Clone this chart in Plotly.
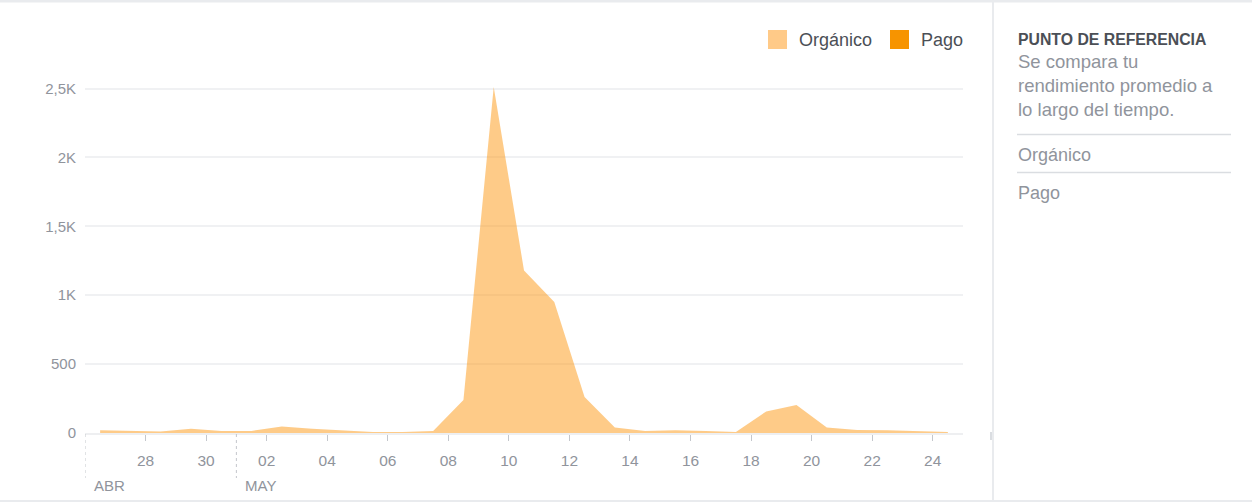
import plotly.graph_objects as go

# ---- data ----
dates = ["2018-04-26 12:00", "2018-04-27 12:00", "2018-04-28 12:00", "2018-04-29 12:00",
         "2018-04-30 12:00", "2018-05-01 12:00", "2018-05-02 12:00", "2018-05-03 12:00",
         "2018-05-04 12:00", "2018-05-05 12:00", "2018-05-06 12:00", "2018-05-07 12:00",
         "2018-05-08 12:00", "2018-05-09 12:00", "2018-05-10 12:00", "2018-05-11 12:00",
         "2018-05-12 12:00", "2018-05-13 12:00", "2018-05-14 12:00", "2018-05-15 12:00",
         "2018-05-16 12:00", "2018-05-17 12:00", "2018-05-18 12:00", "2018-05-19 12:00",
         "2018-05-20 12:00", "2018-05-21 12:00", "2018-05-22 12:00", "2018-05-23 12:00",
         "2018-05-24 12:00"]
organico = [20, 15, 10, 30, 15, 15, 48, 30, 20, 8, 8, 15, 240, 2510, 1180, 950,
            262, 40, 15, 20, 15, 8, 156, 203, 40, 22, 20, 12, 8]
pago = [0] * len(dates)

x_tick_vals = ["2018-04-28", "2018-04-30", "2018-05-02", "2018-05-04", "2018-05-06",
               "2018-05-08", "2018-05-10", "2018-05-12", "2018-05-14", "2018-05-16",
               "2018-05-18", "2018-05-20", "2018-05-22", "2018-05-24"]
x_tick_text = ["28", "30", "02", "04", "06", "08", "10", "12", "14", "16", "18", "20", "22", "24"]
y_tick_vals = [0, 500, 1000, 1500, 2000, 2500]
y_tick_text = ["0", "500", "1K", "1,5K", "2K", "2,5K"]
months = ["ABR", "MAY"]
month_starts = ["2018-04-26", "2018-05-01"]
legend_names = ["Orgánico", "Pago"]
legend_colors = ["#FFCA88", "#F79400"]
panel_title = "PUNTO DE REFERENCIA"
panel_lines = ["Se compara tu", "rendimiento promedio a", "lo largo del tiempo."]
panel_items = ["Orgánico", "Pago"]

# ---- layout geometry (pixels) ----
W, H = 1252, 502
L, R = 85, 963
T, B = 86, 433
PW, PH = R - L, B - T


def px(xp):
    return (xp - L) / PW


def py(yp):
    return (B - yp) / PH


FONT = "Liberation Sans, Arial, Helvetica, sans-serif"
GRAY = "#90949C"

fig = go.Figure()
fig.add_trace(go.Scatter(x=dates, y=pago, name="Pago", stackgroup="one",
                         line=dict(width=0, color="#F79400"),
                         fillcolor="rgba(247,148,0,0.9)", showlegend=False, hoverinfo="skip"))
fig.add_trace(go.Scatter(x=dates, y=organico, name="Orgánico", stackgroup="one",
                         line=dict(width=0, color="#FFCA88"),
                         fillcolor="rgba(253,152,18,0.5)", showlegend=False))

shapes = []
annotations = []

# month separators + labels
for m, d in zip(months, month_starts):
    shapes.append(dict(type="line", xref="x", yref="paper", x0=d, x1=d,
                       y0=py(434), y1=py(478),
                       line=dict(color="#C4C7CC", width=1, dash="3px,3px")))
    annotations.append(dict(text=m, xref="x", yref="paper", x=d, y=py(485),
                            xanchor="left", yanchor="middle", xshift=7, showarrow=False,
                            font=dict(family=FONT, size=15, color=GRAY)))

# small end marker near panel
shapes.append(dict(type="rect", xref="paper", yref="paper", x0=px(990), x1=px(992),
                   y0=py(432), y1=py(440), line=dict(width=0), fillcolor="#DADDE1"))

# card borders and panel separator
shapes.append(dict(type="line", xref="paper", yref="paper", x0=px(0), x1=px(W),
                   y0=py(1), y1=py(1), line=dict(color="#E9EBEE", width=3)))
shapes.append(dict(type="line", xref="paper", yref="paper", x0=px(0), x1=px(W),
                   y0=py(501), y1=py(501), line=dict(color="#E9EBEE", width=2)))
shapes.append(dict(type="line", xref="paper", yref="paper", x0=px(993), x1=px(993),
                   y0=py(0), y1=py(502), line=dict(color="#E9EBEE", width=2)))

# manual legend
leg_x = [768, 890]
text_x = [797, 919]
for name, col, sx, tx in zip(legend_names, legend_colors, leg_x, text_x):
    shapes.append(dict(type="rect", xref="paper", yref="paper", x0=px(sx), x1=px(sx + 19),
                       y0=py(49), y1=py(30), line=dict(width=0), fillcolor=col))
    annotations.append(dict(text=name, xref="paper", yref="paper", x=px(tx), y=py(40),
                            xanchor="left", yanchor="middle", showarrow=False,
                            font=dict(family=FONT, size=18, color="#4B4F56")))

# right panel
annotations.append(dict(text="<b>" + panel_title + "</b>", xref="paper", yref="paper",
                        x=px(1016), y=py(39), xanchor="left", yanchor="middle", showarrow=False,
                        font=dict(family=FONT, size=15.8, color="#4B4F56")))
for i, line in enumerate(panel_lines):
    annotations.append(dict(text=line, xref="paper", yref="paper",
                            x=px(1016), y=py(62 + 23.5 * i), xanchor="left", yanchor="middle",
                            showarrow=False, font=dict(family=FONT, size=18.5, color=GRAY)))
for yl in [134.5, 172.5]:
    shapes.append(dict(type="line", xref="paper", yref="paper", x0=px(1017), x1=px(1231),
                       y0=py(yl), y1=py(yl), line=dict(color="#DADDE1", width=1.5)))
for i, item in enumerate(panel_items):
    annotations.append(dict(text=item, xref="paper", yref="paper",
                            x=px(1016), y=py(155 + 37.5 * i), xanchor="left", yanchor="middle",
                            showarrow=False, font=dict(family=FONT, size=18, color=GRAY)))

ymax = (B - T) / ((B - 88.5) / 2500)

fig.update_layout(
    width=W, height=H,
    margin=dict(l=L, r=W - R, t=T, b=H - B, pad=0),
    paper_bgcolor="white", plot_bgcolor="white",
    showlegend=False,
    shapes=shapes, annotations=annotations,
    font=dict(family=FONT),
    xaxis=dict(type="date", range=["2018-04-26", "2018-05-25"],
               tickvals=x_tick_vals, ticktext=x_tick_text,
               ticks="outside", ticklen=6, tickcolor="#C4C7CC", tickwidth=1,
               ticklabelstandoff=6,
               showgrid=False, zeroline=False, showline=True, linecolor="#EEEFF1", linewidth=2,
               tickfont=dict(family=FONT, size=15.5, color=GRAY), fixedrange=True),
    yaxis=dict(range=[0, ymax], tickvals=y_tick_vals, ticktext=y_tick_text,
               showgrid=True, gridcolor="#F0F1F3", gridwidth=1.5, zeroline=False,
               showline=False, ticks="", ticklabelstandoff=8,
               tickfont=dict(family=FONT, size=15, color=GRAY), fixedrange=True),
)

fig.write_html("out.html")
